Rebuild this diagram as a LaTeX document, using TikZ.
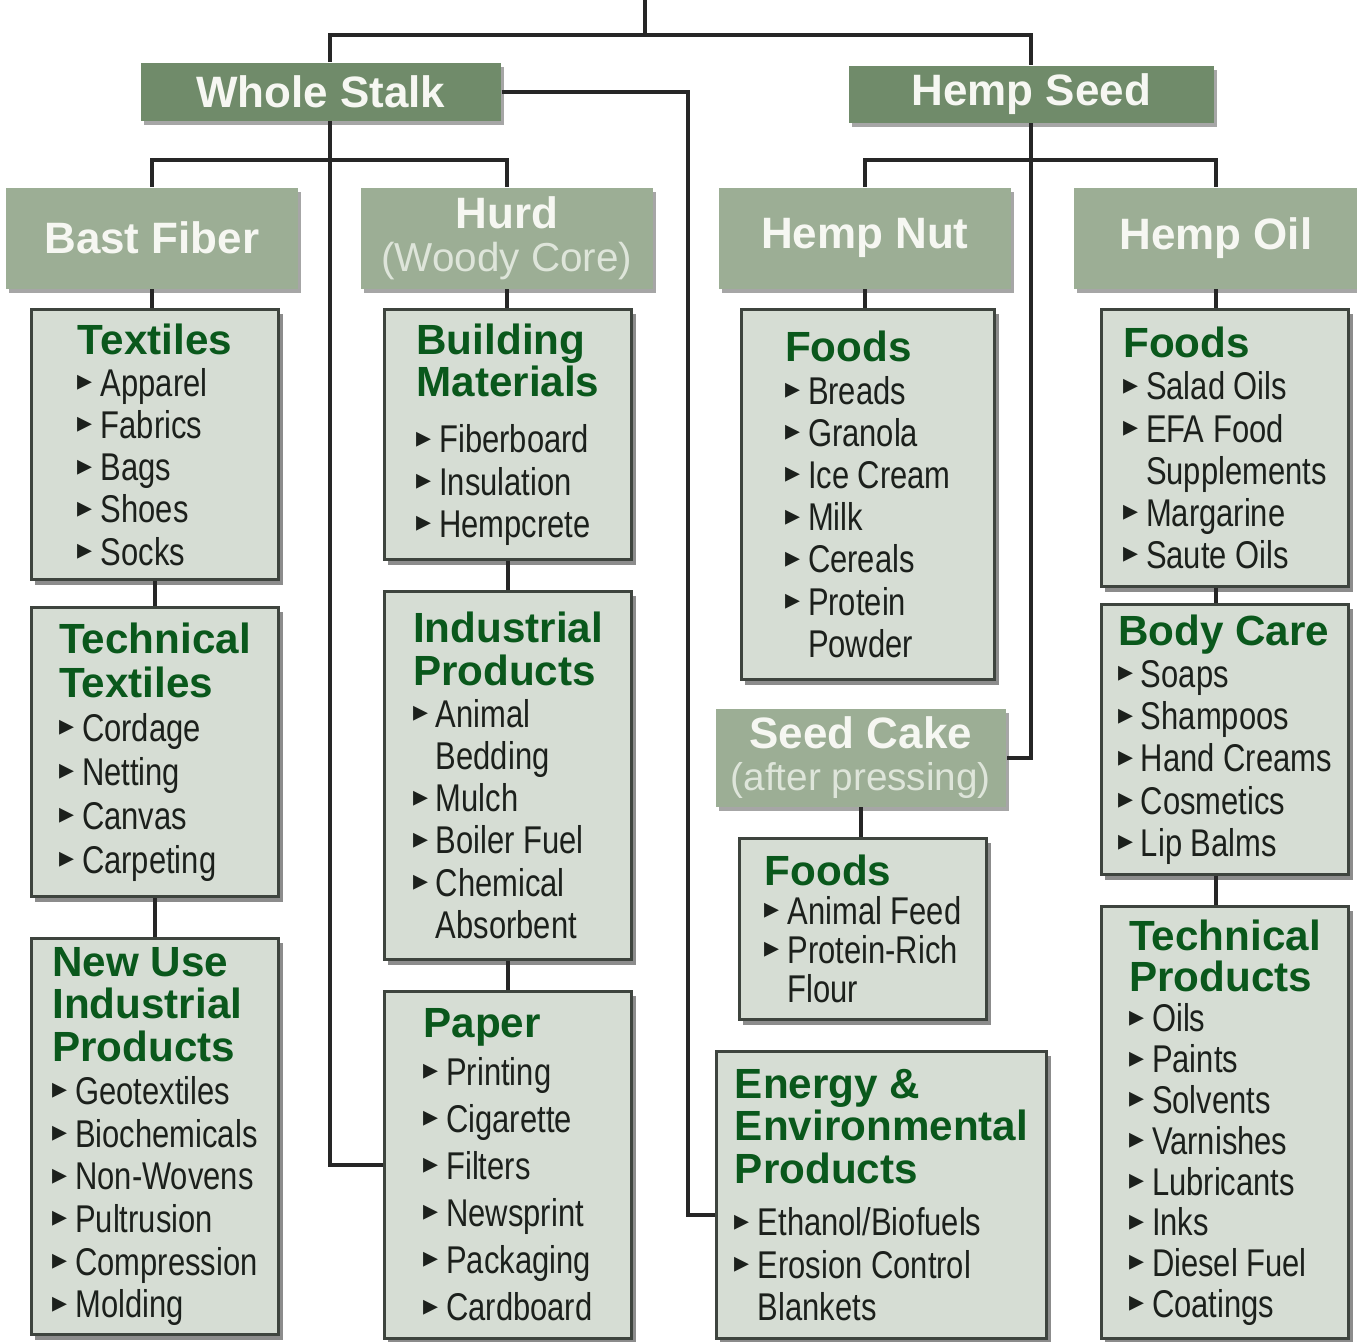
\documentclass[tikz,border=0pt]{standalone}
\usepackage{fontspec}
\setmainfont{Liberation Sans}
\newfontfamily\itemfont[FakeStretch=0.8]{Liberation Sans}
\newfontfamily\symfont{DejaVu Sans}
\usetikzlibrary{shadows}

\definecolor{stalkgreen}{RGB}{112,139,106}
\definecolor{sagegreen}{RGB}{156,174,149}
\definecolor{boxgrey}{RGB}{214,221,212}
\definecolor{edgegrey}{RGB}{62,68,62}
\definecolor{hdgreen}{RGB}{10,88,28}
\definecolor{itemcol}{RGB}{28,32,28}
\definecolor{hdwhite}{RGB}{246,247,242}
\definecolor{palecol}{RGB}{222,229,218}

\newcommand\bul{\makebox[6.5pt][l]{\raisebox{1.6pt}{\symfont\fontsize{8.5}{8.5}\selectfont ▸}}}
\newcommand\itm[1]{\bul#1}
\newcommand\cnt[1]{\hspace*{6.5pt}#1}
\newcommand\hd[1]{{\normalfont\bfseries\fontsize{12}{12}\selectfont\color{hdgreen}#1}}

\begin{document}
\begin{tikzpicture}[x=0.01cm, y=-0.01cm,
    link/.style={line width=1.1pt, black!85},
    topbox/.style={anchor=north west, inner sep=0pt, fill=stalkgreen, text=hdwhite,
      font=\bfseries\fontsize{12.5}{12}\selectfont,
      drop shadow={shadow xshift=0.03cm, shadow yshift=-0.04cm, fill=black, opacity=0.35}},
    subbox/.style={topbox, fill=sagegreen, align=center},
    cbox/.style={anchor=north west, inner sep=0pt, draw=edgegrey, line width=0.8pt,
      fill=boxgrey, text=itemcol, align=left, minimum width=2.47cm,
      font=\itemfont\fontsize{11}{#1}\selectfont,
      drop shadow={shadow xshift=0.04cm, shadow yshift=-0.05cm, fill=black, opacity=0.45}},
    cbox/.default=12pt]

  \fill[white] (0,0) rectangle (1357,1341);
  \useasboundingbox (0,0) rectangle (1357,1341);

  % Stalk and seed
  \node[topbox, minimum width=3.60cm, minimum height=0.58cm] (stalk) at (140,62) {Whole Stalk};
  \node[topbox, minimum width=3.65cm, minimum height=0.57cm] (seed) at (848,65) {Hemp Seed};

  % Parts of the plant
  \node[subbox, minimum width=2.92cm, minimum height=1.01cm] (bast) at (5,187) {Bast Fiber};
  \node[subbox, minimum width=2.92cm, minimum height=1.01cm] (hurd) at (360,187)
    {Hurd\\{\mdseries\fontsize{11.5}{12}\selectfont\color{palecol}(Woody Core)}};
  \node[subbox, minimum width=2.92cm, minimum height=1.01cm] (nut) at (718,187) {Hemp Nut};
  \node[subbox, minimum width=2.84cm, minimum height=1.01cm] (oil) at (1073,187) {Hemp Oil};
  \node[subbox, minimum width=2.90cm, minimum height=0.98cm] (cake) at (715,708)
    {Seed Cake\\{\mdseries\fontsize{11}{12}\selectfont\color{palecol}(after pressing)}};

  % Bast fiber products
  \node[cbox, minimum height=2.70cm] (textiles) at (30,308) {\hd{Textiles}\\
    \itm{Apparel}\\ \itm{Fabrics}\\ \itm{Bags}\\ \itm{Shoes}\\ \itm{Socks}};
  \node[cbox=12.5pt, minimum height=2.89cm] (techtex) at (30,606) {\hd{Technical}\\ \hd{Textiles}\\
    \itm{Cordage}\\ \itm{Netting}\\ \itm{Canvas}\\ \itm{Carpeting}};
  \node[cbox=12.15pt, minimum height=3.96cm] (newuse) at (30,937) {\hd{New Use}\\ \hd{Industrial}\\ \hd{Products}\\
    \itm{Geotextiles}\\ \itm{Biochemicals}\\ \itm{Non-Wovens}\\ \itm{Pultrusion}\\ \itm{Compression}\\ \itm{Molding}};

  % Hurd products
  \node[cbox, minimum height=2.50cm] (building) at (383,308) {\hd{Building}\\ \hd{Materials}\\[4pt]
    \itm{Fiberboard}\\ \itm{Insulation}\\ \itm{Hempcrete}};
  \node[cbox, minimum height=3.68cm] (indprod) at (383,590) {\hd{Industrial}\\ \hd{Products}\\
    \itm{Animal}\\ \cnt{Bedding}\\ \itm{Mulch}\\ \itm{Boiler Fuel}\\ \itm{Chemical}\\ \cnt{Absorbent}};
  \node[cbox=13.4pt, minimum height=3.47cm] (paper) at (383,990) {\hd{Paper}\\
    \itm{Printing}\\ \itm{Cigarette}\\ \itm{Filters}\\ \itm{Newsprint}\\ \itm{Packaging}\\ \itm{Cardboard}};

  % Nut and seed cake products
  \node[cbox, minimum width=2.53cm, minimum height=3.70cm] (nutfoods) at (740,308) {\hd{Foods}\\
    \itm{Breads}\\ \itm{Granola}\\ \itm{Ice Cream}\\ \itm{Milk}\\ \itm{Cereals}\\ \itm{Protein}\\ \cnt{Powder}};
  \node[cbox=11.1pt, minimum height=1.81cm] (cakefoods) at (738,837) {\hd{Foods}\\
    \itm{Animal Feed}\\ \itm{Protein-Rich}\\ \cnt{Flour}};
  \node[cbox, minimum width=3.30cm, minimum height=2.87cm] (energy) at (715,1050)
    {\hd{Energy \&}\\ \hd{Environmental}\\ \hd{Products}\\[3pt]
    \itm{Ethanol/Biofuels}\\ \itm{Erosion Control}\\ \cnt{Blankets}};

  % Oil products
  \node[cbox, minimum height=2.77cm] (oilfoods) at (1100,308) {\hd{Foods}\\
    \itm{Salad Oils}\\ \itm{EFA Food}\\ \cnt{Supplements}\\ \itm{Margarine}\\ \itm{Saute Oils}};
  \node[cbox, minimum height=2.70cm] (bodycare) at (1100,603) {\hd{Body Care}\\
    \itm{Soaps}\\ \itm{Shampoos}\\ \itm{Hand Creams}\\ \itm{Cosmetics}\\ \itm{Lip Balms}};
  \node[cbox=11.6pt, minimum height=4.32cm] (techprod) at (1100,905) {\hd{Technical}\\ \hd{Products}\\
    \itm{Oils}\\ \itm{Paints}\\ \itm{Solvents}\\ \itm{Varnishes}\\ \itm{Lubricants}\\ \itm{Inks}\\
    \itm{Diesel Fuel}\\ \itm{Coatings}};

  % Connectors
  \coordinate (top) at (645,0);
  \coordinate (j0) at (645,35);
  \coordinate (wsx) at (330,0);
  \coordinate (ex) at (688,0);
  \coordinate (eIn) at ([yshift=-0.2cm]energy.west);

  \draw[link] (top) -- (j0);
  \draw[link] (stalk.north -| wsx) |- (j0) -| (seed.north);
  \draw[link] (stalk.south -| wsx) |- (paper.west);
  \draw[link] (stalk.east) -| (ex |- eIn) -- (eIn);
  \draw[link] (bast.north) -- ++(0,-27) -| (hurd.north);
  \draw[link] (seed.south) |- (cake.east);
  \draw[link] (nut.north) -- ++(0,-27) -| (oil.north);

  \draw[link] (bast.south) -- (bast.south |- textiles.north);
  \draw[link] (hurd.south) -- (hurd.south |- building.north);
  \draw[link] (nut.south) -- (nut.south |- nutfoods.north);
  \draw[link] (cake.south) -- (cake.south |- cakefoods.north);
  \draw[link] (oil.south) -- (oil.south |- oilfoods.north);
  \foreach \a/\b in {textiles/techtex, techtex/newuse, building/indprod, indprod/paper}
    \draw[link] (\a.south) -- (\b.north);
  \foreach \a/\b in {oilfoods/bodycare, bodycare/techprod}
    \draw[link] (\a.south -| oil.south) -- (\b.north -| oil.south);
\end{tikzpicture}
\end{document}
